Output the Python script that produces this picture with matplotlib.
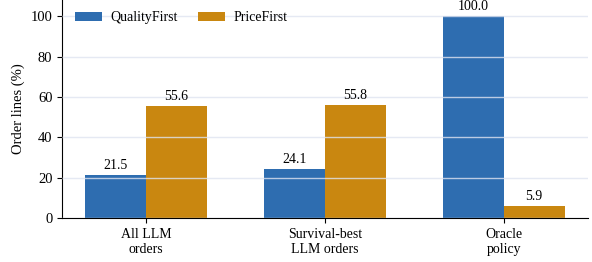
import matplotlib.pyplot as plt
import numpy as np

plt.rcParams['font.family'] = ['Liberation Serif', 'DejaVu Serif']

categories = ['All LLM\norders', 'Survival-best\nLLM orders', 'Oracle\npolicy']
quality_first = [21.5, 24.1, 100.0]
price_first = [55.6, 55.8, 5.9]

x = np.arange(len(categories))
w = 0.34

fig, ax = plt.subplots(figsize=(5.92, 2.62), dpi=100)
b1 = ax.bar(x - w/2, quality_first, w, color='#2e6db0', label='QualityFirst', zorder=1)
b2 = ax.bar(x + w/2, price_first, w, color='#c98710', label='PriceFirst', zorder=1)
for bars, vals in [(b1, quality_first), (b2, price_first)]:
    for r, v in zip(bars, vals):
        ax.text(r.get_x() + r.get_width()/2, v + 1.5, f'{v:.1f}', ha='center', va='bottom', fontsize=10)

ax.set_xticks(x)
ax.set_xticklabels(categories, fontsize=10)
ax.tick_params(axis='y', labelsize=10.5)
ax.set_ylabel('Order lines (%)', fontsize=10.5)
ax.set_ylim(0, 108)
ax.set_xlim(-0.47, 2.47)
ax.set_yticks([0, 20, 40, 60, 80, 100])
ax.yaxis.grid(True, color='#dfe4f0', linewidth=1.0, alpha=0.8, zorder=2)
ax.set_axisbelow(False)
for s in ['top', 'right']:
    ax.spines[s].set_visible(False)
ax.legend(loc='upper left', ncol=2, frameon=False, fontsize=10, bbox_to_anchor=(0.0, 1.005),
          handlelength=1.95, handleheight=0.6, handletextpad=0.65, columnspacing=1.4)

fig.subplots_adjust(left=0.105, right=0.993, bottom=0.168, top=1.0)
fig.savefig('out.png', dpi=100)
